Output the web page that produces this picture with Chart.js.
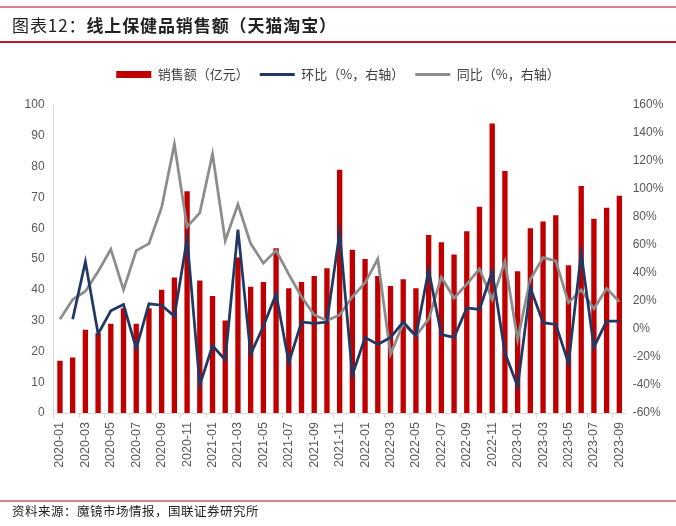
<!DOCTYPE html>
<html>
<head>
<meta charset="utf-8">
<script src="https://cdn.jsdelivr.net/npm/chart.js@4.4.0/dist/chart.umd.min.js"></script>
<style>
html, body { margin: 0; padding: 0; background: #fff; }
#wrap { position: relative; width: 676px; height: 526px; overflow: hidden; font-family: "Noto Sans CJK SC", sans-serif; }
#chart { position: absolute; left: 0; top: 0; }
.rule { position: absolute; left: 0; width: 676px; }
#title { position: absolute; left: 12px; top: 13px; font-size: 17px; line-height: 24px; color: #222; white-space: nowrap; letter-spacing: 0.9px; }
#title b { font-weight: 700; }
#source { position: absolute; left: 12px; top: 502px; font-size: 12.5px; line-height: 18px; color: #222; white-space: nowrap; letter-spacing: 0.5px; }
</style>
</head>
<body>
<div id="wrap">
  <canvas id="chart" width="676" height="526"></canvas>
  <div class="rule" style="top:6px;height:2px;background:#DC7F8C"></div>
  <div id="title">图表12：<b>线上保健品销售额（天猫淘宝）</b></div>
  <div class="rule" style="top:41px;height:2px;background:#C8102E"></div>
  <div class="rule" style="top:500px;height:2px;background:#DC7F8C"></div>
  <div id="source">资料来源：魔镜市场情报，国联证券研究所</div>
</div>
<script>
const months = [
  '2020-01', '2020-02', '2020-03', '2020-04', '2020-05', '2020-06', '2020-07', '2020-08', '2020-09', '2020-10', '2020-11', '2020-12',
  '2021-01', '2021-02', '2021-03', '2021-04', '2021-05', '2021-06', '2021-07', '2021-08', '2021-09', '2021-10', '2021-11', '2021-12',
  '2022-01', '2022-02', '2022-03', '2022-04', '2022-05', '2022-06', '2022-07', '2022-08', '2022-09', '2022-10', '2022-11', '2022-12',
  '2023-01', '2023-02', '2023-03', '2023-04', '2023-05', '2023-06', '2023-07', '2023-08', '2023-09'
];

// 销售额（亿元）
const sales = [
  17, 18, 27, 26, 29, 34, 29, 34, 40, 44, 72, 43,
  38, 30, 50.5, 41, 42.5, 53.5, 40.5, 42.5, 44.5, 47, 79, 53,
  50, 44.5, 41.2, 43.4, 40.5, 57.8, 55.4, 51.5, 59, 67, 94, 78.6,
  46, 60, 62.2, 64.2, 48, 73.7, 63.1, 66.6, 70.5
];

// 环比 (%)
const mom = [
  null, 7, 48, -3.5, 13, 17.5, -14, 18, 17, 9, 64.5, -40,
  -12, -22, 71, -18, 2, 25, -24, 5, 4, 5, 69, -33,
  -6, -11, -6, 5, -5, 42, -4, -6, 15, 14, 41, -17,
  -41, 29.5, 4.5, 3.3, -24.5, 54, -13, 5.7, 5.7
];

// 同比 (%)
const yoy = [
  7, 21, 27, 41, 57, 28, 56, 61, 87, 132, 73, 83,
  125, 63, 89, 61, 47, 56, 39, 23, 10, 6, 10, 23,
  33, 50, -18, 4, -5, 7, 37, 22, 32, 43, 21, 48,
  -7.4, 35.5, 51, 48.6, 18.8, 28, 14.5, 29, 19.5
];

const seriesNames = ['销售额（亿元）', '环比（%，右轴）', '同比（%，右轴）'];
const seriesColors = ['#C00000', '#1F3864', '#8C8C8C'];

const tickFont = { family: '"Liberation Sans", Arial, sans-serif', size: 12 };
const xTickFont = { family: '"Liberation Sans", Arial, sans-serif', size: 12.5 };
const cjkFont = { family: '"Noto Sans CJK SC", sans-serif', size: 13 };

// force the legend block height so the plot top lands where the picture has it
const legendHeight = {
  id: 'legendHeight',
  beforeInit(chart) {
    const fit = chart.legend.fit;
    chart.legend.fit = function () {
      fit.call(this);
      this.height = 48;
    };
  }
};

const ctx = document.getElementById('chart').getContext('2d');
const chart = new Chart(ctx, {
  type: 'bar',
  data: {
    labels: months,
    datasets: [
      {
        type: 'bar', label: seriesNames[0], data: sales, yAxisID: 'y',
        backgroundColor: seriesColors[0], barPercentage: 0.42, categoryPercentage: 1, order: 2
      },
      {
        type: 'line', label: seriesNames[1], data: mom, yAxisID: 'y1',
        borderColor: seriesColors[1], borderWidth: 2.75, pointRadius: 0, tension: 0, order: 0
      },
      {
        type: 'line', label: seriesNames[2], data: yoy, yAxisID: 'y1',
        borderColor: seriesColors[2], borderWidth: 2.75, pointRadius: 0, tension: 0, order: 1
      }
    ]
  },
  options: {
    responsive: false,
    animation: false,
    layout: { padding: { top: 57, left: 0, right: 0, bottom: 0 } },
    plugins: {
      tooltip: { enabled: false },
      legend: {
        position: 'top',
        labels: {
          usePointStyle: true,
          pointStyleWidth: 35,
          boxHeight: 7,
          padding: 11,
          color: '#404040',
          font: cjkFont,
          generateLabels: function(chart) {
            return chart.data.datasets.map((ds, i) => ({
              text: ds.label,
              fillStyle: seriesColors[i],
              strokeStyle: seriesColors[i],
              lineWidth: i === 0 ? 0 : 3,
              pointStyle: i === 0 ? 'rect' : 'line',
              hidden: false,
              datasetIndex: i,
              fontColor: '#404040'
            }));
          }
        }
      }
    },
    scales: {
      x: {
        grid: {
          offset: true,
          drawOnChartArea: false,
          tickLength: 5,
          color: (c) => (c.index % 2 === 0 ? '#D9D9D9' : 'rgba(0,0,0,0)')
        },
        border: { color: '#D9D9D9', width: 1 },
        ticks: {
          autoSkip: false,
          minRotation: 90,
          maxRotation: 90,
          padding: 4,
          color: '#595959',
          font: xTickFont,
          callback: (v, i) => (i % 2 === 0 ? months[i] : '')
        },
        afterFit: (s) => { s.height = 113; }
      },
      y: {
        position: 'left',
        min: 0,
        max: 100,
        grid: { display: false, drawTicks: false },
        border: { color: '#D9D9D9', width: 1 },
        ticks: { stepSize: 10, padding: 9, color: '#595959', font: tickFont },
        afterFit: (s) => { s.width = 53.6; }
      },
      y1: {
        position: 'right',
        min: -60,
        max: 160,
        grid: { display: false, drawTicks: false },
        border: { display: false },
        ticks: {
          stepSize: 20, padding: 7, color: '#595959', font: tickFont,
          callback: (v) => v + '%'
        },
        afterFit: (s) => { s.width = 50.3; }
      }
    }
  },
  plugins: [legendHeight]
});
</script>
</body>
</html>
